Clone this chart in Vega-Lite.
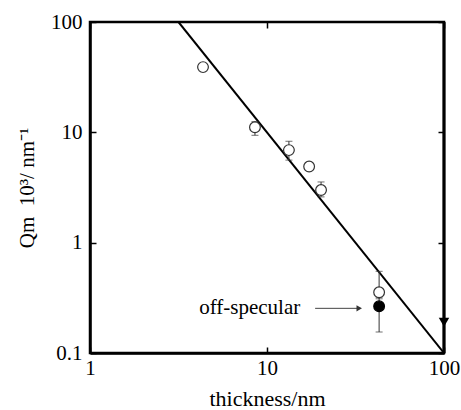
{
  "$schema": "https://vega.github.io/schema/vega-lite/v6.json",
  "width": 354,
  "height": 331,
  "autosize": "none",
  "padding": {"left": 90, "top": 22, "right": 17, "bottom": 57},
  "background": "white",
  "config": {
    "view": {"stroke": "black", "strokeWidth": 2.5},
    "font": "Liberation Serif",
    "axis": {"grid": false, "labelFont": "Liberation Serif", "titleFont": "Liberation Serif", "labelColor": "black", "titleColor": "black", "titleFontWeight": "normal", "labelFontWeight": "normal", "tickColor": "black", "domainColor": "black", "labelFlush": false}
  },
  "datasets": {
    "pts": [
      {"t": 4.35, "q": 39, "kind": "open"},
      {"t": 8.55, "q": 11.1, "lo": 9.4, "hi": 12.5, "kind": "open"},
      {"t": 13.3, "q": 6.9, "lo": 5.6, "hi": 8.3, "kind": "open"},
      {"t": 17.3, "q": 4.9, "kind": "open"},
      {"t": 20.2, "q": 3.0, "lo": 2.6, "hi": 3.55, "kind": "open"},
      {"t": 43, "q": 0.355, "lo": 0.31, "hi": 0.55, "kind": "open"},
      {"t": 43, "q": 0.265, "lo": 0.155, "hi": 0.32, "kind": "filled"}
    ],
    "fit": [
      {"t": 3.162, "q": 100},
      {"t": 100, "q": 0.1}
    ]
  },
  "resolve": {"axis": {"x": "independent", "y": "independent"}},
  "layer": [
    {
      "data": {"name": "fit"},
      "mark": {"type": "line", "color": "black", "strokeWidth": 2, "clip": true},
      "encoding": {
        "x": {"field": "t", "type": "quantitative", "scale": {"type": "log", "domain": [1, 100]},
          "axis": {"orient": "bottom", "values": [1, 10, 100], "format": "~g", "labelFont": "Liberation Serif", "labelFontWeight": "normal", "labelFlush": false, "domainWidth": 2.5, "tickSize": -6, "tickWidth": 1.5, "labelPadding": 10, "labelFontSize": 21, "title": "thickness/nm", "titleFont": "Liberation Serif", "titleFontSize": 22, "titlePadding": 10}},
        "y": {"field": "q", "type": "quantitative", "scale": {"type": "log", "domain": [0.1, 100]},
          "axis": {"orient": "left", "values": [0.1, 1, 10, 100], "format": "~g", "labelFont": "Liberation Serif", "labelFontWeight": "normal", "labelFlush": false, "domainWidth": 2.5, "tickSize": -6, "tickWidth": 1.5, "labelPadding": 14, "labelFontSize": 21, "title": "Qm\u00a0\u00a010³/\u00a0nm⁻¹", "titleFont": "Liberation Serif", "titleFontSize": 21, "titlePadding": 13}}
      }
    },
    {
      "data": {"name": "fit"},
      "mark": {"type": "point", "opacity": 0},
      "encoding": {
        "x": {"field": "t", "type": "quantitative", "scale": {"type": "log", "domain": [1, 100]},
          "axis": {"orient": "top", "values": [1, 10, 100], "labels": false, "domain": false, "tickSize": -6, "tickWidth": 1.5, "title": null}},
        "y": {"field": "q", "type": "quantitative", "scale": {"type": "log", "domain": [0.1, 100]},
          "axis": {"orient": "right", "values": [0.1, 1, 10, 100], "labels": false, "domain": false, "tickSize": -6, "tickWidth": 1.5, "title": null}}
      }
    },
    {
      "data": {"name": "pts"},
      "mark": {"type": "rule", "color": "#333", "strokeWidth": 1},
      "encoding": {
        "x": {"field": "t", "type": "quantitative", "axis": null},
        "y": {"field": "lo", "type": "quantitative", "axis": null},
        "y2": {"field": "hi"}
      }
    },
    {
      "data": {"name": "pts"},
      "transform": [{"filter": "datum.lo != null"}],
      "mark": {"type": "tick", "orient": "horizontal", "color": "#333", "size": 7, "thickness": 1},
      "encoding": {
        "x": {"field": "t", "type": "quantitative", "axis": null},
        "y": {"field": "lo", "type": "quantitative", "axis": null}
      }
    },
    {
      "data": {"name": "pts"},
      "transform": [{"filter": "datum.hi != null"}],
      "mark": {"type": "tick", "orient": "horizontal", "color": "#333", "size": 7, "thickness": 1},
      "encoding": {
        "x": {"field": "t", "type": "quantitative", "axis": null},
        "y": {"field": "hi", "type": "quantitative", "axis": null}
      }
    },
    {
      "data": {"name": "pts"},
      "mark": {"type": "point", "shape": "circle", "size": 115, "strokeWidth": 1.2, "opacity": 1},
      "encoding": {
        "x": {"field": "t", "type": "quantitative", "axis": null},
        "y": {"field": "q", "type": "quantitative", "axis": null},
        "stroke": {"field": "kind", "type": "nominal", "scale": {"domain": ["open", "filled"], "range": ["#333", "black"]}, "legend": null},
        "fill": {"field": "kind", "type": "nominal", "scale": {"domain": ["open", "filled"], "range": ["white", "black"]}, "legend": null}
      }
    },
    {
      "data": {"values": [{"t": 100, "q": 100, "q2": 0.1}]},
      "mark": {"type": "rule", "color": "black", "strokeWidth": 3},
      "encoding": {
        "x": {"field": "t", "type": "quantitative", "axis": null},
        "y": {"field": "q", "type": "quantitative", "axis": null},
        "y2": {"field": "q2"}
      }
    },
    {
      "data": {"values": [{"t": 100, "q": 0.19}]},
      "mark": {"type": "point", "shape": "triangle-down", "size": 110, "filled": true, "color": "black", "opacity": 1},
      "encoding": {
        "x": {"field": "t", "type": "quantitative", "axis": null},
        "y": {"field": "q", "type": "quantitative", "axis": null}
      }
    },
    {
      "data": {"values": [{"t": 18.7, "t2": 33.5, "q": 0.254}]},
      "mark": {"type": "rule", "color": "#444", "strokeWidth": 1},
      "encoding": {
        "x": {"field": "t", "type": "quantitative", "axis": null},
        "x2": {"field": "t2"},
        "y": {"field": "q", "type": "quantitative", "axis": null}
      }
    },
    {
      "data": {"values": [{"t": 33.2, "q": 0.254}]},
      "mark": {"type": "point", "shape": "triangle-right", "size": 40, "filled": true, "color": "#333", "opacity": 1},
      "encoding": {
        "x": {"field": "t", "type": "quantitative", "axis": null},
        "y": {"field": "q", "type": "quantitative", "axis": null}
      }
    },
    {
      "data": {"values": [{"t": 15.4, "q": 0.254, "label": "off-specular"}]},
      "mark": {"type": "text", "align": "right", "baseline": "middle", "font": "Liberation Serif", "fontSize": 21, "color": "black"},
      "encoding": {
        "x": {"field": "t", "type": "quantitative", "axis": null},
        "y": {"field": "q", "type": "quantitative", "axis": null},
        "text": {"field": "label"}
      }
    }
  ]
}
